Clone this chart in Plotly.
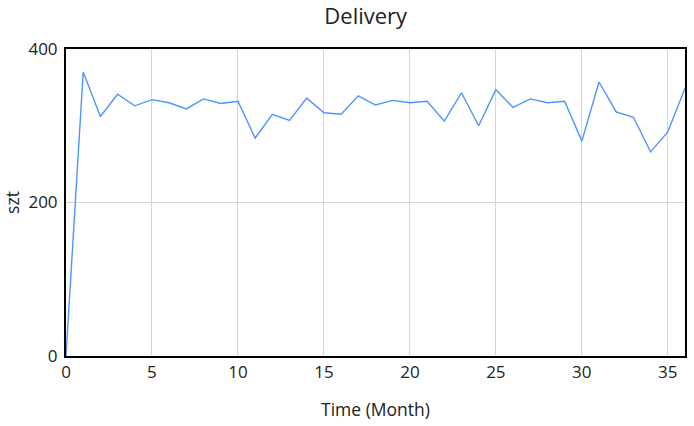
import plotly.graph_objects as go

months = list(range(0, 37))
delivery = [0, 370, 312, 341, 326, 334, 330, 322, 335, 329, 332, 284, 315, 307, 336,
            317, 315, 339, 327, 333, 330, 332, 306, 343, 300, 347, 324, 335, 330, 332,
            280, 357, 318, 311, 266, 292, 349]

x_ticks = [0, 5, 10, 15, 20, 25, 30, 35]
y_ticks = [0, 200, 400]

fig = go.Figure()
fig.add_trace(go.Scatter(x=months, y=delivery, mode="lines",
                         line=dict(color="#4d94ff", width=1.4),
                         showlegend=False))

fig.update_layout(
    width=694, height=426,
    margin=dict(l=66, r=9, t=49, b=70, autoexpand=False),
    paper_bgcolor="white", plot_bgcolor="white",
    font=dict(family="Open Sans", size=17, color="#222"),
    title=dict(text="Delivery", x=0.527, xanchor="center", y=0.962, yanchor="middle",
               font=dict(size=22, color="#222")),
    xaxis=dict(range=[0, 36], tickvals=x_ticks, showgrid=True, gridcolor="#d6d6d6",
               gridwidth=1, showline=True, linecolor="black", linewidth=2, mirror=True,
               zeroline=False, ticks="", automargin=False,
               title=dict(text="Time (Month)", standoff=21, font=dict(size=17.5))),
    yaxis=dict(range=[0, 400], tickvals=y_ticks, showgrid=True, gridcolor="#d6d6d6",
               gridwidth=1, showline=True, linecolor="black", linewidth=2, mirror=True,
               zeroline=False, ticks="", automargin=False, ticklabelstandoff=3,
               title=dict(text="szt", standoff=10, font=dict(size=17.5))),
)

fig.write_html("out.html", config={"displayModeBar": False},
               post_script="document.body.style.margin='0';")
